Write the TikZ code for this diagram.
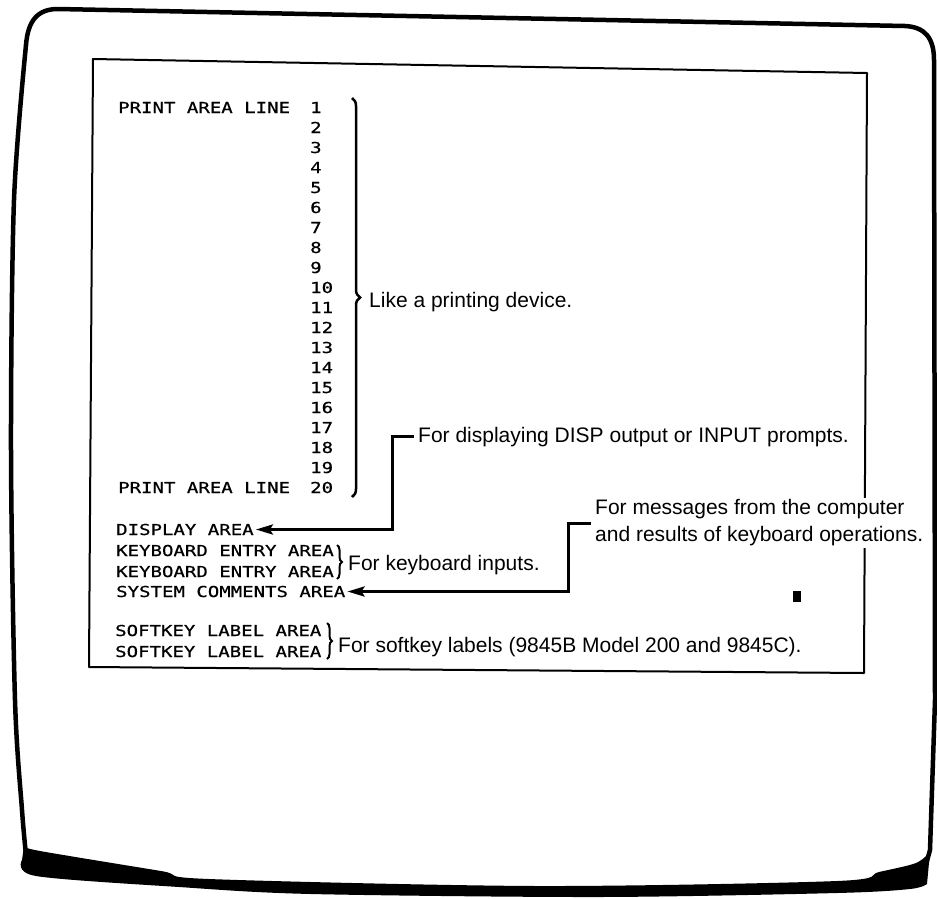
\documentclass[tikz,border=0pt]{standalone}
\usepackage{fontspec}
\usepackage{tikz}
\usetikzlibrary{arrows.meta, positioning, calc, decorations.pathreplacing}
\newfontfamily\hpfont[FakeStretch=1.26, FakeBold=0.6]{DejaVu Sans Mono}
\newfontfamily\notefont{Liberation Sans}
\tikzset{
  screen/.style={font=\hpfont\fontsize{15.1}{20}\selectfont,
    inner xsep=2pt, inner ysep=1pt, anchor=base west},
  note/.style={font=\notefont\fontsize{21}{27}\selectfont,
    inner xsep=4pt, inner ysep=2pt, fill=white, align=left},
  arrow/.style={-{Stealth[length=17pt, width=10pt, inset=3pt]}, line width=3pt},
  bigbrace/.style={decorate, decoration={brace, amplitude=8pt}, line width=2.5pt},
  smallbrace/.style={decorate, decoration={brace, amplitude=5pt}, line width=2pt},
  frame/.style={line width=4.5pt, line cap=round, line join=round},
  panel/.style={line width=2pt, line join=round}
}

\begin{document}
\begin{tikzpicture}[x=1pt, y=-1pt]
  \useasboundingbox (0,0) rectangle (937,898);

  \draw[frame] (26,45) .. controls (28,20) and (38,9) .. (58,9) -- (905,26)
    .. controls (925,27) and (934,38) .. (934,60) -- (935,700) -- (930,850) -- (925,868);
  \draw[frame] plot[smooth] coordinates {(26,45) (14,200) (11,450) (15,700) (22,810) (26,855)};
  \fill plot[smooth] coordinates {(24,846) (40,851) (161,871) (209,879) (538,886) (837,881) (879,872) (916,863) (930,852)}
    -- plot[smooth] coordinates {(927,884) (910,889) (837,893) (598,897) (311,894) (179,887) (36,876) (22,860)} -- cycle;

  \draw[panel] (93,59) -- (867,73) -- (864,673) -- (89,667) -- cycle;

  \node[screen] (line1) at (116,113) {PRINT AREA LINE};
  \foreach \n in {1,...,20}
    \node[screen] (num\n) at (308,{113+20*(\n-1)}) {\n};
  \node[screen] (line20) at (116,493) {PRINT AREA LINE};
  \node[screen] (disparea) at (114,535) {DISPLAY AREA};
  \node[screen] (kbd1) at (114,556) {KEYBOARD ENTRY AREA};
  \node[screen] (kbd2) at (114,577) {KEYBOARD ENTRY AREA};
  \node[screen] (sysarea) at (114,597) {SYSTEM COMMENTS AREA};
  \node[screen] (soft1) at (113,636) {SOFTKEY LABEL AREA};
  \node[screen] (soft2) at (113,657) {SOFTKEY LABEL AREA};
  \node[fill, inner sep=0pt, minimum width=8pt, minimum height=11pt] (cursor) at (797,596) {};

  \coordinate (bigtop) at (352,98);
  \coordinate (bigbot) at (352,497);
  \coordinate (kbdtop) at (337,545);
  \coordinate (kbdbot) at (337,579);
  \coordinate (softtop) at (327,623);
  \coordinate (softbot) at (327,659);
  \draw[bigbrace] (bigtop) -- (bigbot);
  \draw[smallbrace] (kbdtop) -- (kbdbot);
  \draw[smallbrace] (softtop) -- (softbot);

  \node[note, anchor=base west] (printlbl) at (365,307) {Like a printing device.};
  \node[note, anchor=base west] (displbl) at (414,442) {For displaying DISP output or INPUT prompts.};
  \node[note, anchor=west] (msglbl) at (591,523) {For messages from the computer\\and results of keyboard operations.};
  \node[note, anchor=base west] (kbdlbl) at (344,570) {For keyboard inputs.};
  \node[note, anchor=base west] (softlbl) at (334,652) {For softkey labels (9845B Model 200 and 9845C).};

  \draw[arrow] (displbl.west) -- ++(-22,0) |- (disparea.east);
  \draw[arrow] (msglbl.west) -- ++(-23,0) |- (sysarea.east);
\end{tikzpicture}
\end{document}
